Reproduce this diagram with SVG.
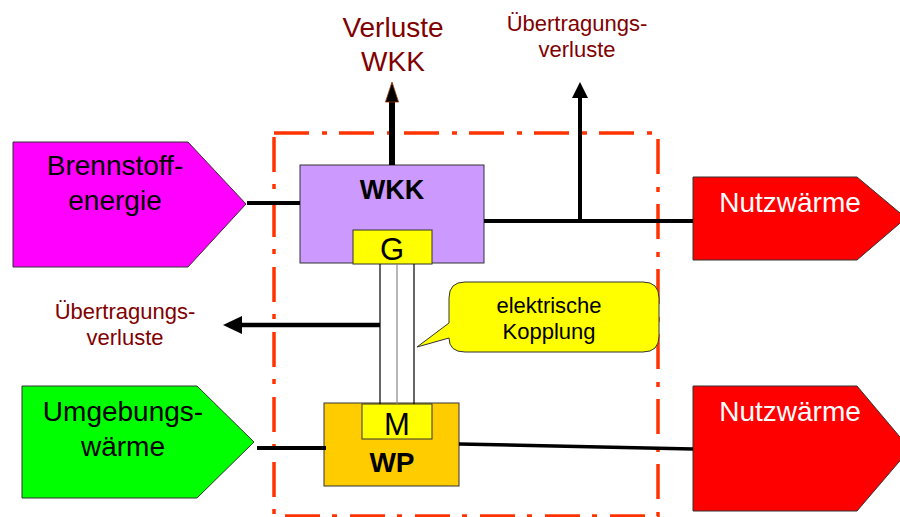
<svg xmlns="http://www.w3.org/2000/svg" width="900" height="517" viewBox="0 0 900 517">
<style>
text{font-family:"Liberation Sans",Arial,sans-serif;text-anchor:middle}
.shape{stroke:#333;stroke-width:1}
.lbl{font-size:28px;fill:#000}
.wlbl{font-size:28px;fill:#fff}
.loss{fill:#800000}
.conn{stroke:#000;fill:none}
.head{fill:#000}
</style>
<rect width="900" height="517" fill="#fff"/>
<g id="boundary">
<path d="M274,133 H658 V516 H274 Z" fill="none" stroke="#ff3300" stroke-width="3.5" stroke-dasharray="35 13 5 12"/>
</g>
<g id="brennstoff">
<polygon class="shape" points="13,142 188,142 246,204 188,267 13,267" fill="#ff00ff"/>
<text class="lbl" x="115" y="175">Brennstoff-</text>
<text class="lbl" x="115" y="210">energie</text>
</g>
<g id="umgebung">
<polygon class="shape" points="22,386 197,386 254,442 197,498 22,498" fill="#00ff00"/>
<text class="lbl" x="123" y="421">Umgebungs-</text>
<text class="lbl" x="123" y="456">wärme</text>
</g>
<g id="nutz1">
<polygon class="shape" points="693,177 857,177 906,218 857,260 693,260" fill="#ff0000"/>
<text class="wlbl" x="790" y="212">Nutzwärme</text>
</g>
<g id="nutz2">
<polygon class="shape" points="693,386 857,386 910,449 857,511 693,511" fill="#ff0000"/>
<text class="wlbl" x="790" y="421">Nutzwärme</text>
</g>
<g id="wkk">
<rect class="shape" x="300" y="165" width="184" height="98" fill="#cc99ff"/>
<text x="392" y="199" font-size="27" font-weight="bold">WKK</text>
</g>
<g id="generator">
<rect class="shape" x="353" y="230" width="79" height="34" fill="#ffff00"/>
<text x="392" y="260" font-size="31">G</text>
</g>
<g id="wp">
<rect class="shape" x="324" y="403" width="135" height="83" fill="#ffcc00"/>
<text x="392" y="472" font-size="28" font-weight="bold">WP</text>
</g>
<g id="motor">
<rect class="shape" x="362" y="404" width="70" height="35" fill="#ffff00"/>
<text x="397" y="435" font-size="31">M</text>
</g>
<g id="callout">
<path d="M465,282 H643 Q659,282 659,298 V336 Q659,352 643,352 H465 Q449,352 449,338 L417,347 L449,323 V298 Q449,282 465,282 Z" fill="#ffff00" stroke="#333" stroke-width="1"/>
<text x="549" y="313" font-size="22">elektrische</text>
<text x="549" y="339" font-size="22">Kopplung</text>
</g>
<g id="loss-labels">
<text class="loss" x="393" y="37" font-size="28">Verluste</text>
<text class="loss" x="393" y="71" font-size="28">WKK</text>
<text class="loss" x="577" y="31" font-size="22">Übertragungs-</text>
<text class="loss" x="577" y="57" font-size="22">verluste</text>
<text class="loss" x="125" y="319" font-size="22">Übertragungs-</text>
<text class="loss" x="125" y="345" font-size="22">verluste</text>
</g>
<g id="connectors">
<line class="conn" x1="247" y1="203" x2="300" y2="203" stroke-width="4"/>
<line class="conn" x1="484" y1="221" x2="693" y2="221" stroke-width="4"/>
<line class="conn" x1="257" y1="448" x2="326" y2="448" stroke-width="4"/>
<line class="conn" x1="459" y1="444" x2="693" y2="449" stroke-width="3.5"/>
<line class="conn" x1="392" y1="165" x2="392" y2="100" stroke-width="6"/>
<polygon class="head" points="392,82 385.5,102 398.5,102" stroke="#993300" stroke-width="0.8"/>
<line class="conn" x1="580" y1="221" x2="580" y2="96" stroke-width="4"/>
<polygon class="head" points="580,82 572,98 588,98"/>
<line class="conn" x1="380" y1="325" x2="240" y2="325" stroke-width="4.5"/>
<polygon class="head" points="223,325 242,316 242,334"/>
<line class="conn" x1="380" y1="264" x2="380" y2="404" stroke-width="1.2"/>
<line x1="397" y1="264" x2="397" y2="404" stroke="#888" stroke-width="1.2"/>
<line class="conn" x1="414" y1="264" x2="414" y2="404" stroke-width="1.2"/>
</g>
</svg>
